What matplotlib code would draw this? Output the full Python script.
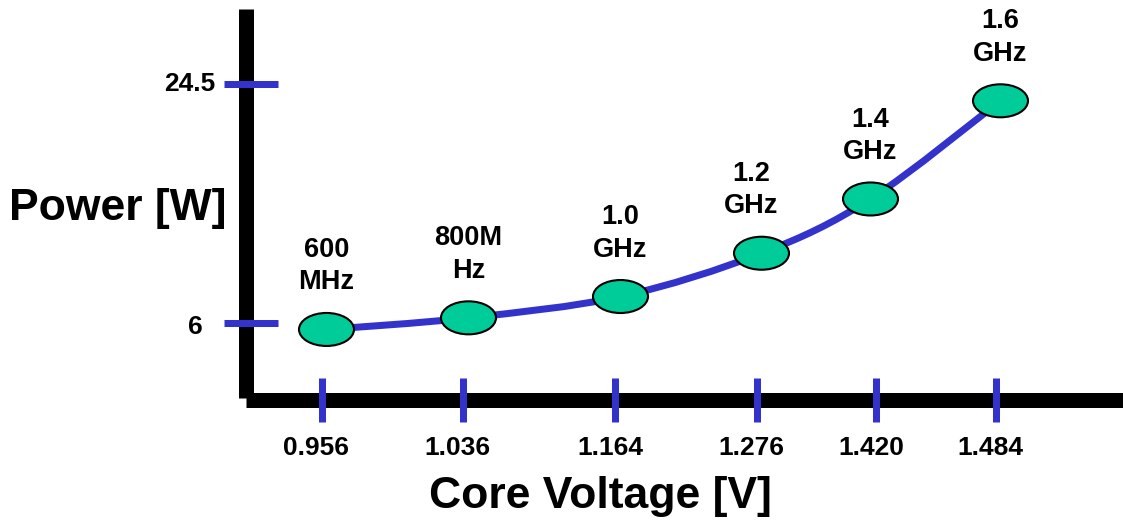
import matplotlib
matplotlib.use('Agg')
import matplotlib.pyplot as plt
from matplotlib.patches import Ellipse, PathPatch
from matplotlib.path import Path
import numpy as np

# data
freq_labels = ['600\nMHz', '800M\nHz', '1.0\nGHz', '1.2\nGHz', '1.4\nGHz', '1.6\nGHz']
voltage_labels = ['0.956', '1.036', '1.164', '1.276', '1.420', '1.484']
power = [5.5, 6.4, 8.05, 11.4, 15.6, 23.2]
power_ticks = [6, 24.5]
power_tick_labels = ['6', '24.5']

# layout, in pixels (the voltage axis is schematic, not to scale)
tick_x = [321.5, 462.5, 615, 756.5, 876, 995.5]
dot_x = [326.5, 468.5, 620.5, 761.5, 870.5, 1000.5]
label_dx = [0, 0, 0, -10, 0, 0]
ytick_label_x = [203, 215]
ytick_label_row = [334, 91]

W, H = 1123, 522
# pixel row -> watts (6 W sits at row 323, 24.5 W at row 84)
scale = (24.5 - 6) / (323 - 84)


def py(row):
    return 6 + (323 - row) * scale


BLUE = '#3333CC'
GREEN = '#00CC99'
plt.rcParams['font.family'] = ['Liberation Sans', 'DejaVu Sans']
plt.rcParams['font.weight'] = 'bold'
pt = 72 / 100  # pixels -> points

fig = plt.figure(figsize=(W / 100, H / 100), dpi=100)
ax = fig.add_axes([0, 0, 1, 1])
ax.set_xlim(0, W)
ax.set_ylim(py(H), py(0))
ax.axis('off')

# thick black axes
ax.plot([245.5, 245.5], [py(9), py(398)], color='black', lw=15 * pt,
        solid_capstyle='butt', zorder=1)
ax.plot([246, W], [py(399.5), py(399.5)], color='black', lw=15 * pt,
        solid_capstyle='butt', zorder=1)

# blue tick marks
ax.hlines(power_ticks, 224, 278, color=BLUE, lw=7 * pt, capstyle='butt', zorder=2)
ax.vlines(tick_x, py(421.5), py(378), color=BLUE, lw=7 * pt, capstyle='butt', zorder=2)

for lab, x, r in zip(power_tick_labels, ytick_label_x, ytick_label_row):
    ax.text(x, py(r), lab, ha='right', va='baseline', fontsize=19)

for lab, x in zip(voltage_labels, tick_x):
    ax.text(x - 5, py(455), lab, ha='center', va='baseline', fontsize=19)

# smooth curve through the points (Catmull-Rom as cubic Bezier)
pts = np.column_stack([dot_x, power])
verts = [pts[0]]
codes = [Path.MOVETO]
for i in range(len(pts) - 1):
    p0 = pts[i - 1] if i > 0 else pts[i]
    p1 = pts[i]
    p2 = pts[i + 1]
    p3 = pts[i + 2] if i + 2 < len(pts) else pts[i + 1]
    verts += [p1 + (p2 - p0) / 6, p2 - (p3 - p1) / 6, p2]
    codes += [Path.CURVE4] * 3
ax.add_patch(PathPatch(Path(verts, codes), fill=False, edgecolor=BLUE,
                       lw=7 * pt, zorder=3))

# frequency points
for x, p, lab, dx in zip(dot_x, power, freq_labels, label_dx):
    ax.add_patch(Ellipse((x, p), 55, 33 * scale, facecolor=GREEN,
                         edgecolor='black', lw=1.5, zorder=4))
    ax.annotate(lab, (x, p), xytext=(dx, 34), textcoords='offset pixels',
                ha='center', va='bottom', fontsize=19.5, linespacing=1.32)

ax.text(600.5, py(508), 'Core Voltage [V]', ha='center', va='baseline', fontsize=32)
ax.text(118, py(220), 'Power [W]', ha='center', va='baseline', fontsize=32)

fig.savefig('out.png', dpi=100)
